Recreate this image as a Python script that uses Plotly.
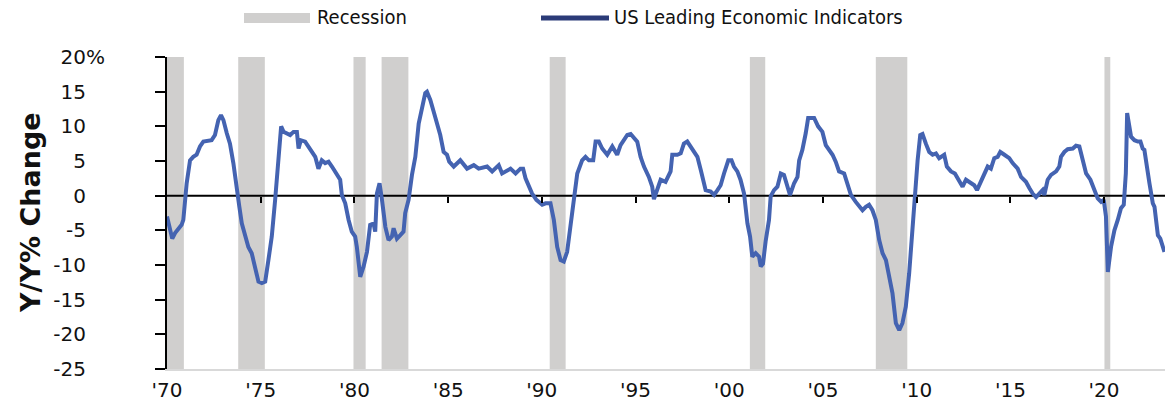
import plotly.graph_objects as go

# ---------------- data ----------------
years = [
    1970.0, 1970.15, 1970.28, 1970.43, 1970.6, 1970.78, 1970.87, 1971.05, 1971.23, 1971.4,
    1971.58, 1971.76, 1971.94, 1972.2, 1972.38, 1972.56, 1972.74, 1972.88, 1973.01, 1973.19,
    1973.36, 1973.54, 1973.69, 1973.86, 1973.99, 1974.17, 1974.34, 1974.52, 1974.7, 1974.88,
    1975.06, 1975.24, 1975.41, 1975.59, 1975.77, 1975.95, 1976.09, 1976.22, 1976.39, 1976.57,
    1976.75, 1976.93, 1977.02, 1977.14, 1977.37, 1977.64, 1977.91, 1978.08, 1978.26, 1978.44,
    1978.62, 1978.8, 1979.06, 1979.24, 1979.33, 1979.51, 1979.69, 1979.86, 1980.04, 1980.13,
    1980.31, 1980.49, 1980.67, 1980.84, 1981.02, 1981.11, 1981.2, 1981.34, 1981.47, 1981.65,
    1981.82, 1982.0, 1982.09, 1982.27, 1982.45, 1982.62, 1982.71, 1982.89, 1983.07, 1983.25,
    1983.43, 1983.6, 1983.78, 1983.87, 1984.05, 1984.23, 1984.4, 1984.58, 1984.76, 1984.94,
    1985.06, 1985.3, 1985.65, 1986.01, 1986.37, 1986.63, 1987.08, 1987.35, 1987.7, 1987.88,
    1988.33, 1988.6, 1988.86, 1989.0, 1989.13, 1989.3, 1989.48, 1989.71, 1990.02, 1990.2,
    1990.46, 1990.64, 1990.82, 1991.0, 1991.17, 1991.35, 1991.53, 1991.71, 1991.89, 1992.15,
    1992.33, 1992.51, 1992.74, 1992.87, 1993.04, 1993.22, 1993.49, 1993.76, 1994.02, 1994.2,
    1994.56, 1994.74, 1994.91, 1995.09, 1995.27, 1995.45, 1995.71, 1995.89, 1995.98, 1996.16,
    1996.34, 1996.6, 1996.87, 1996.96, 1997.23, 1997.41, 1997.58, 1997.76, 1997.94, 1998.3,
    1998.48, 1998.74, 1999.01, 1999.19, 1999.37, 1999.54, 1999.72, 1999.95, 2000.12, 2000.25,
    2000.43, 2000.6, 2000.79, 2000.97, 2001.11, 2001.23, 2001.41, 2001.59, 2001.68, 2001.8,
    2001.94, 2002.12, 2002.21, 2002.39, 2002.57, 2002.75, 2002.92, 2003.1, 2003.24, 2003.46,
    2003.64, 2003.73, 2003.9, 2004.08, 2004.21, 2004.35, 2004.53, 2004.74, 2004.97, 2005.15,
    2005.33, 2005.51, 2005.68, 2005.86, 2006.13, 2006.31, 2006.49, 2006.75, 2006.93, 2007.11,
    2007.29, 2007.46, 2007.64, 2007.82, 2008.0, 2008.18, 2008.36, 2008.53, 2008.71, 2008.89,
    2009.07, 2009.24, 2009.42, 2009.6, 2009.78, 2009.92, 2010.05, 2010.19, 2010.31, 2010.49,
    2010.67, 2010.85, 2011.03, 2011.2, 2011.47, 2011.61, 2011.83, 2012.04, 2012.22, 2012.45,
    2012.63, 2012.86, 2013.07, 2013.22, 2013.43, 2013.61, 2013.79, 2013.96, 2014.14, 2014.32,
    2014.46, 2014.68, 2014.94, 2015.12, 2015.39, 2015.57, 2015.83, 2016.01, 2016.19, 2016.37,
    2016.55, 2016.72, 2016.81, 2016.99, 2017.17, 2017.44, 2017.61, 2017.7, 2017.88, 2018.06,
    2018.33, 2018.5, 2018.68, 2018.86, 2019.04, 2019.27, 2019.49, 2019.66, 2019.84, 2019.98,
    2020.1, 2020.2, 2020.37, 2020.55, 2020.73, 2020.9, 2021.05, 2021.16, 2021.23, 2021.35,
    2021.44, 2021.62, 2021.8, 2021.94, 2022.06, 2022.15, 2022.24, 2022.42, 2022.6, 2022.69,
    2022.87, 2023.0, 2023.22,
]
lei_yoy = [
    -3.0, -4.5, -6.2, -5.4, -4.7, -4.2, -3.5, 1.8, 5.1, 5.6,
    5.9, 7.1, 7.8, 8.0, 8.0, 8.75, 10.9, 11.6, 10.9, 9.0,
    7.5, 4.7, 1.3, -1.6, -4.0, -5.7, -7.4, -8.3, -10.7, -12.4,
    -12.6, -12.4, -9.3, -5.9, -0.6, 5.1, 10.0, 9.2, 9.0, 8.75,
    9.2, 9.2, 6.8, 8.0, 7.8, 6.8, 5.6, 3.9, 5.1, 4.7,
    4.9, 4.2, 3.2, 2.3, 0.1, -1.1, -3.5, -5.2, -5.9, -7.4,
    -11.7, -10.2, -8.1, -4.2, -4.0, -5.2, 0.3, 1.8, -0.6, -4.5,
    -6.4, -5.9, -4.7, -6.2, -5.7, -5.2, -2.5, -0.6, 3.0, 5.6,
    10.4, 12.4, 14.8, 15.0, 13.8, 12.1, 10.4, 8.75, 6.3, 5.9,
    4.9, 4.2, 5.1, 3.9, 4.4, 3.9, 4.2, 3.5, 4.4, 3.2,
    3.9, 3.2, 3.9, 3.9, 2.5, 1.3, 0.3, -0.6, -1.3, -1.1,
    -1.1, -3.5, -7.4, -9.3, -9.5, -8.1, -4.5, -1.1, 3.2, 5.1,
    5.6, 5.1, 5.1, 7.8, 7.8, 6.8, 5.9, 7.1, 5.9, 7.3,
    8.75, 8.9, 8.3, 7.8, 5.6, 4.2, 2.7, 1.3, -0.5, 1.1,
    2.3, 2.0, 3.5, 5.9, 5.9, 6.1, 7.5, 7.8, 7.1, 5.6,
    3.7, 0.8, 0.6, 0.1, 0.8, 1.5, 3.2, 5.1, 5.1, 4.2,
    3.5, 2.3, 0.3, -4.0, -5.9, -8.8, -8.3, -8.8, -10.2, -9.8,
    -6.6, -3.5, -0.1, 0.8, 1.3, 3.2, 3.0, 1.1, 0.1, 1.8,
    2.7, 5.1, 6.6, 9.0, 11.2, 11.2, 11.2, 10.0, 9.2, 7.3,
    6.6, 5.9, 4.9, 3.5, 3.2, 1.8, 0.1, -0.9, -1.6, -2.1,
    -1.6, -1.3, -2.1, -3.5, -6.4, -8.3, -9.3, -11.4, -14.1, -18.4,
    -19.4, -18.4, -16.0, -11.2, -4.5, 1.8, 5.1, 8.75, 8.9, 7.5,
    6.3, 5.9, 6.1, 5.4, 5.9, 4.2, 3.5, 3.2, 2.3, 1.3,
    2.3, 1.8, 1.5, 0.8, 2.0, 3.2, 4.2, 3.9, 5.4, 5.6,
    6.3, 5.9, 5.4, 4.7, 3.9, 2.7, 2.0, 1.1, 0.3, -0.2,
    0.3, 0.8, 0.1, 2.3, 3.0, 3.5, 4.2, 5.6, 6.3, 6.7,
    6.8, 7.2, 7.1, 5.1, 3.2, 2.3, 0.8, -0.4, -0.9, -0.6,
    -3.0, -11.0, -7.4, -5.0, -3.5, -1.8, -1.3, 3.2, 11.9, 9.7,
    8.5, 8.0, 7.8, 7.8, 6.8, 6.6, 4.7, 1.8, -1.1, -1.6,
    -5.7, -6.2, -8.1,
]

# NBER recessions (decimal years)
rec_start = [1969.9, 1973.8, 1979.95, 1981.45, 1990.42, 2001.1, 2007.82, 2020.02]
rec_end = [1970.9, 1975.22, 1980.6, 1982.88, 1991.27, 2001.92, 2009.5, 2020.33]

x_tick_vals = [1970, 1975, 1980, 1985, 1990, 1995, 2000, 2005, 2010, 2015, 2020]
x_tick_text = ["'70", "'75", "'80", "'85", "'90", "'95", "'00", "'05", "'10", "'15", "'20"]
zero_tick_vals = [1975, 1980, 1985, 1990, 1995, 2000, 2005, 2010, 2015, 2020]
y_tick_vals = [-25, -20, -15, -10, -5, 0, 5, 10, 15, 20]

series_name = "US Leading Economic Indicators"
recession_name = "Recession"
y_title = "Y/Y% Change"

# ---------------- style ----------------
X_MIN, X_MAX = 1970.0, 2023.25
Y_MIN, Y_MAX = -25, 20
W, H = 1171, 404
ML, MR, MT, MB = 167, 6, 57, 35
PW, PH = W - ML - MR, H - MT - MB

LINE_COLOR = "#4463b1"
LEGEND_LINE_COLOR = "#2b3b78"
REC_COLOR = "#d0cfce"
TICK_FONT = dict(family="DejaVu Sans, Liberation Sans, Arial, sans-serif", size=20, color="#111111")
LEG_FONT = dict(family="Liberation Sans Narrow, DejaVu Sans Condensed, Arial Narrow, sans-serif",
                size=20, color="#111111")

y_tick_text = [
    (f"{v}%" if v == max(y_tick_vals) else f"{v}<span style=\"color:rgba(0,0,0,0)\">%</span>")
    for v in y_tick_vals
]


def px_x(p):
    return (p - ML) / PW


def px_y(p):
    return (H - MB - p) / PH


fig = go.Figure()

# recession bars
fig.add_trace(go.Bar(
    x=[(s + e) / 2 for s, e in zip(rec_start, rec_end)],
    y=[Y_MAX - Y_MIN for _ in rec_start],
    base=Y_MIN,
    width=[e - s for s, e in zip(rec_start, rec_end)],
    marker=dict(color=REC_COLOR, line=dict(width=0)),
    name=recession_name,
    xaxis="x", yaxis="y",
    hoverinfo="skip",
))

# zero line (reference line spanning the axis range)
fig.add_trace(go.Scatter(
    x=[X_MIN, X_MAX], y=[0, 0], mode="lines",
    line=dict(color="black", width=2),
    xaxis="x2", yaxis="y", hoverinfo="skip",
))

# LEI line
fig.add_trace(go.Scatter(
    x=years, y=lei_yoy, mode="lines",
    line=dict(color=LINE_COLOR, width=4),
    name=series_name,
    xaxis="x2", yaxis="y",
))

fig.update_layout(
    width=W, height=H,
    margin=dict(l=ML, r=MR, t=MT, b=MB, pad=0, autoexpand=False),
    paper_bgcolor="white", plot_bgcolor="white",
    showlegend=False,
    xaxis=dict(
        range=[X_MIN, X_MAX], tickvals=x_tick_vals, ticktext=x_tick_text,
        ticks="", showline=True, linecolor="#d9d9d9", linewidth=1.5,
        showgrid=False, zeroline=False, tickfont=TICK_FONT,
        ticklabelstandoff=2, automargin=False,
    ),
    xaxis2=dict(
        range=[X_MIN, X_MAX], overlaying="x", anchor="free",
        position=(0 - Y_MIN) / (Y_MAX - Y_MIN),
        tickvals=zero_tick_vals, ticks="outside", ticklen=6, tickwidth=2, tickcolor="black",
        showticklabels=False, showline=False, showgrid=False, zeroline=False,
        automargin=False,
    ),
    yaxis=dict(
        range=[Y_MIN, Y_MAX], tickvals=y_tick_vals, ticktext=y_tick_text,
        ticks="outside", ticklen=10, tickwidth=2, tickcolor="black",
        showline=True, linecolor="black", linewidth=2,
        showgrid=False, zeroline=False, tickfont=TICK_FONT,
        ticklabelstandoff=46, automargin=False,
    ),
)

# axis title
fig.add_annotation(
    text=f"<b>{y_title}</b>", textangle=-90,
    x=px_x(30), y=0.5, xref="paper", yref="paper",
    xanchor="center", yanchor="middle", showarrow=False,
    font=dict(family="DejaVu Sans, Liberation Sans, Arial, sans-serif", size=27, color="#111111"),
)

# legend (drawn manually to match wide swatches)
fig.add_shape(type="rect", xref="paper", yref="paper",
              x0=px_x(244), x1=px_x(310), y0=px_y(23), y1=px_y(13),
              fillcolor=REC_COLOR, line=dict(width=0))
fig.add_annotation(text=recession_name, x=px_x(315), y=px_y(17), xref="paper", yref="paper",
                   xanchor="left", yanchor="middle", showarrow=False, font=LEG_FONT)
fig.add_shape(type="line", xref="paper", yref="paper",
              x0=px_x(541), x1=px_x(609), y0=px_y(18), y1=px_y(18),
              line=dict(color=LEGEND_LINE_COLOR, width=5))
fig.add_annotation(text=series_name, x=px_x(612), y=px_y(17), xref="paper", yref="paper",
                   xanchor="left", yanchor="middle", showarrow=False, font=LEG_FONT)

fig.write_html("out.html", config={"displayModeBar": False},
               post_script="document.body.style.margin='0';")
